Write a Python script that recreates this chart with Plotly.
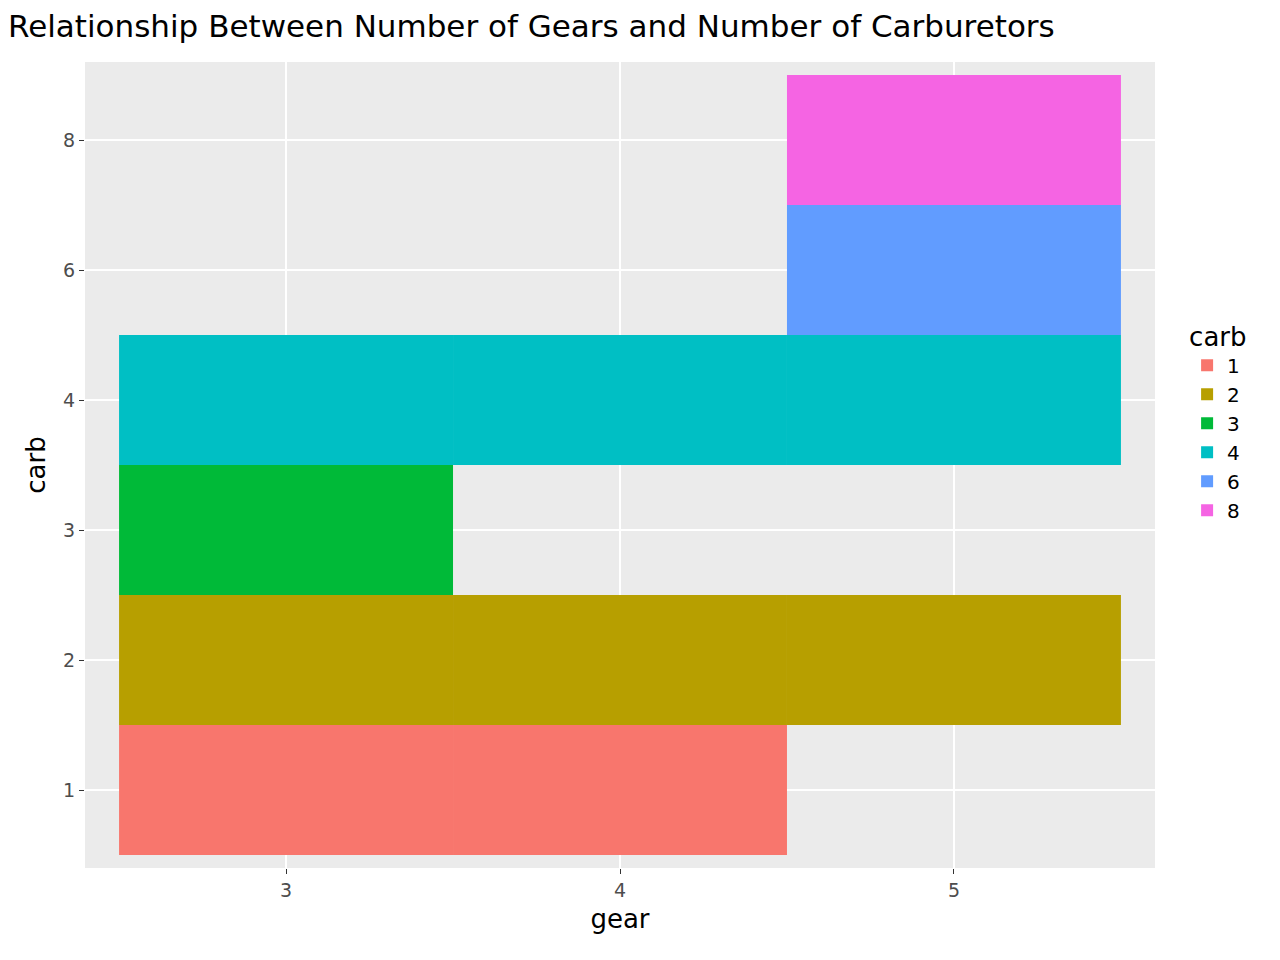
import plotly.graph_objects as go

carb_levels = ["1", "2", "3", "4", "6", "8"]
gears_by_carb = {
    "1": [3, 4],
    "2": [3, 4, 5],
    "3": [3],
    "4": [3, 4, 5],
    "6": [5],
    "8": [5],
}
colors = ["#F8766D", "#B79F00", "#00BA38", "#00BFC4", "#619CFF", "#F564E3"]

fig = go.Figure()
for i, c in enumerate(carb_levels):
    g = gears_by_carb[c]
    fig.add_trace(go.Bar(
        x=g, y=[1] * len(g), base=[i - 0.5] * len(g), width=1,
        name=c, marker=dict(color=colors[i], line=dict(width=0)),
    ))

fig.update_layout(
    width=1280, height=960,
    barmode="overlay",
    paper_bgcolor="white", plot_bgcolor="#EBEBEB",
    font=dict(family="DejaVu Sans", color="black"),
    title=dict(text="Relationship Between Number of Gears and Number of Carburetors",
               x=0, xanchor="left", y=0.992, yanchor="top", font=dict(size=31)),
    margin=dict(l=77, r=133, t=54, b=100),
    legend=dict(title=dict(text="carb", font=dict(size=26)), font=dict(size=20),
                x=1.03, xanchor="left", y=0.69, yanchor="top", tracegroupgap=12),
)
fig.update_xaxes(range=[2.398, 5.602], tickvals=[3, 4, 5], gridcolor="white", gridwidth=2,
                 zeroline=False, ticks="outside", ticklen=5, tickcolor="#333333",
                 tickfont=dict(size=19, color="#4D4D4D"),
                 title=dict(text="gear", font=dict(size=26), standoff=10))
fig.update_yaxes(range=[-0.6, 5.6], tickvals=list(range(len(carb_levels))), ticktext=carb_levels,
                 gridcolor="white", gridwidth=2, zeroline=False, ticks="outside", ticklen=5,
                 tickcolor="#333333", tickfont=dict(size=19, color="#4D4D4D"),
                 title=dict(text="carb", font=dict(size=26), standoff=10))

fig.write_html("out.html")
